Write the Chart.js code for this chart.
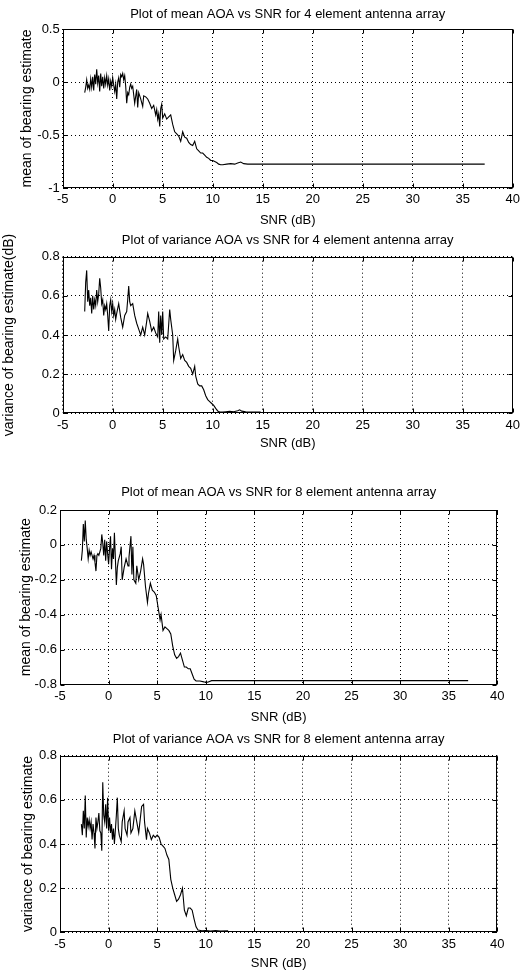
<!DOCTYPE html>
<html><head><meta charset="utf-8">
<script src="https://cdn.jsdelivr.net/npm/chart.js@4"></script>
<style>
html,body{margin:0;padding:0;background:#fff;width:526px;height:971px;overflow:hidden;position:relative}
canvas{position:absolute;left:0}
</style></head><body>
<canvas id="c1" width="526" height="230" style="top:0px"></canvas>
<canvas id="c2" width="526" height="222" style="top:230px"></canvas>
<canvas id="c3" width="526" height="255" style="top:470px"></canvas>
<canvas id="c4" width="526" height="246" style="top:725px"></canvas>
<script>
// ---------- data ----------
const xTicks = [-5, 0, 5, 10, 15, 20, 25, 30, 35, 40];
const xTickLabels = ['-5', '0', '5', '10', '15', '20', '25', '30', '35', '40'];

const yTicksMean4 = [-1, -0.5, 0, 0.5];
const yTickLabelsMean4 = ['-1', '-0.5', '0', '0.5'];
const yTicksVar = [0, 0.2, 0.4, 0.6, 0.8];
const yTickLabelsVar = ['0', '0.2', '0.4', '0.6', '0.8'];
const yTicksMean8 = [-0.8, -0.6, -0.4, -0.2, 0, 0.2];
const yTickLabelsMean8 = ['-0.8', '-0.6', '-0.4', '-0.2', '0', '0.2'];

const snrMean4 = [-2.8,-2.7,-2.6,-2.5,-2.4,-2.3,-2.2,-2.1,-2.0,-1.9,-1.8,-1.7,-1.6,-1.5,-1.4,-1.3,-1.2,-1.1,-1.0,-0.9,-0.8,-0.7,-0.6,-0.5,-0.4,-0.3,-0.2,-0.1,0.0,0.1,0.2,0.3,0.4,0.5,0.6,0.7,0.8,0.9,1.0,1.1,1.2,1.3,1.4,1.5,1.6,1.7,1.8,1.9,2.0,2.2,2.4,2.5,2.6,2.8,3.0,3.1,3.3,3.5,3.7,3.9,4.1,4.3,4.4,4.5,4.6,4.7,4.8,4.9,5.0,5.2,5.4,5.6,5.8,6.0,6.2,6.4,6.6,6.8,7.0,7.2,7.4,7.6,7.8,8.0,8.2,8.4,8.6,8.8,9.0,9.2,9.4,9.6,9.8,10.0,10.2,10.4,10.6,10.8,11.0,11.4,11.8,12.2,12.5,12.8,13.1,13.5,37.2];
const mean4 = [-0.10,-0.05,0.02,-0.06,-0.03,-0.07,0.03,-0.05,0.05,-0.08,0.07,-0.02,0.12,-0.01,0.06,-0.09,0.08,-0.04,0.05,-0.06,0.04,-0.02,0.06,-0.03,0.03,-0.08,0.01,-0.04,0.04,-0.03,-0.09,-0.02,-0.16,0.00,0.04,-0.05,0.07,0.05,0.08,0.02,0.06,-0.04,-0.20,-0.10,-0.12,-0.05,-0.02,-0.06,-0.04,-0.20,-0.07,-0.24,-0.10,-0.16,-0.23,-0.13,-0.14,-0.16,-0.20,-0.25,-0.22,-0.31,-0.26,-0.35,-0.30,-0.42,-0.25,-0.21,-0.34,-0.30,-0.35,-0.33,-0.31,-0.40,-0.47,-0.49,-0.51,-0.56,-0.47,-0.52,-0.53,-0.57,-0.59,-0.60,-0.56,-0.63,-0.65,-0.67,-0.67,-0.69,-0.71,-0.72,-0.74,-0.74,-0.75,-0.76,-0.775,-0.78,-0.78,-0.775,-0.77,-0.775,-0.765,-0.755,-0.77,-0.775,-0.775];

const snrVar4 = [-2.8,-2.7,-2.6,-2.5,-2.4,-2.3,-2.2,-2.1,-2.0,-1.9,-1.8,-1.7,-1.6,-1.5,-1.4,-1.3,-1.2,-1.1,-1.0,-0.9,-0.8,-0.7,-0.6,-0.5,-0.4,-0.3,-0.2,-0.1,0.0,0.1,0.2,0.3,0.4,0.6,0.8,1.0,1.2,1.4,1.5,1.6,1.7,1.8,2.0,2.2,2.4,2.6,2.8,3.0,3.2,3.4,3.5,3.7,3.9,4.1,4.3,4.5,4.6,4.7,4.8,4.9,5.0,5.1,5.3,5.5,5.7,5.8,6.0,6.1,6.3,6.5,6.6,6.8,7.0,7.2,7.4,7.6,7.8,8.0,8.2,8.3,8.5,8.7,8.9,9.1,9.3,9.5,9.7,9.9,10.1,10.3,10.5,10.7,11.0,11.3,11.7,12.1,12.5,12.7,12.9,13.3,13.8,14.3,14.8];
const var4 = [0.52,0.67,0.73,0.57,0.63,0.55,0.59,0.51,0.60,0.53,0.58,0.55,0.63,0.57,0.61,0.69,0.64,0.56,0.58,0.50,0.55,0.53,0.56,0.50,0.42,0.55,0.58,0.52,0.56,0.50,0.53,0.48,0.51,0.56,0.49,0.44,0.50,0.52,0.58,0.65,0.57,0.55,0.56,0.50,0.46,0.43,0.40,0.44,0.40,0.47,0.51,0.47,0.42,0.44,0.41,0.39,0.52,0.36,0.50,0.40,0.52,0.38,0.39,0.38,0.53,0.48,0.40,0.27,0.32,0.38,0.34,0.28,0.30,0.27,0.26,0.24,0.23,0.20,0.24,0.19,0.15,0.14,0.14,0.12,0.09,0.07,0.06,0.05,0.04,0.025,0.012,0.007,0.006,0.008,0.010,0.008,0.013,0.018,0.011,0.008,0.007,0.006,0.006];

const snrMean8 = [-2.8,-2.7,-2.6,-2.5,-2.4,-2.3,-2.2,-2.1,-2.0,-1.9,-1.8,-1.7,-1.6,-1.5,-1.4,-1.3,-1.2,-1.1,-1.0,-0.9,-0.8,-0.7,-0.6,-0.5,-0.4,-0.3,-0.2,-0.1,0.0,0.1,0.2,0.3,0.4,0.5,0.6,0.7,0.8,0.9,1.0,1.2,1.3,1.4,1.6,1.8,2.0,2.1,2.3,2.4,2.5,2.6,2.8,2.9,3.1,3.3,3.5,3.6,3.8,4.0,4.1,4.3,4.5,4.7,4.9,5.1,5.3,5.4,5.6,5.8,6.0,6.2,6.4,6.6,6.8,7.0,7.2,7.4,7.6,7.8,8.0,8.2,8.4,8.6,8.8,9.0,9.4,9.8,10.2,10.6,37.0];
const mean8 = [-0.09,-0.03,0.12,0.02,0.14,0.03,-0.02,-0.08,-0.03,-0.06,-0.04,-0.06,-0.08,-0.06,-0.10,-0.15,-0.06,-0.05,-0.06,-0.04,-0.02,0.06,0.01,-0.06,0.03,-0.09,0.02,-0.05,-0.11,-0.02,0.05,-0.14,-0.02,-0.08,0.07,-0.08,-0.23,-0.13,-0.09,-0.05,-0.01,-0.20,-0.13,-0.08,-0.12,-0.07,0.05,-0.17,-0.01,-0.20,-0.22,-0.12,-0.20,-0.15,-0.08,-0.11,-0.24,-0.33,-0.28,-0.22,-0.26,-0.27,-0.29,-0.36,-0.43,-0.40,-0.49,-0.47,-0.48,-0.49,-0.51,-0.58,-0.63,-0.65,-0.64,-0.62,-0.66,-0.70,-0.70,-0.71,-0.71,-0.74,-0.77,-0.78,-0.78,-0.785,-0.787,-0.778,-0.778];

const snrVar8 = [-2.8,-2.7,-2.6,-2.5,-2.4,-2.3,-2.2,-2.1,-2.0,-1.9,-1.8,-1.7,-1.6,-1.5,-1.4,-1.3,-1.2,-1.1,-1.0,-0.9,-0.8,-0.7,-0.6,-0.5,-0.4,-0.3,-0.2,-0.1,0.0,0.1,0.2,0.3,0.4,0.5,0.6,0.8,0.9,1.0,1.1,1.3,1.4,1.6,1.7,1.9,2.0,2.2,2.3,2.5,2.7,2.9,3.1,3.2,3.4,3.6,3.7,3.9,4.0,4.2,4.4,4.6,4.8,5.0,5.2,5.4,5.6,5.8,6.0,6.2,6.4,6.6,6.8,7.0,7.2,7.4,7.6,7.8,8.0,8.2,8.4,8.6,8.8,9.0,9.2,9.6,10.0,10.5,11.0,11.5,12.3];
const var8 = [0.49,0.44,0.55,0.47,0.62,0.43,0.52,0.48,0.51,0.47,0.50,0.42,0.49,0.45,0.38,0.52,0.47,0.50,0.54,0.46,0.45,0.37,0.68,0.53,0.50,0.58,0.47,0.61,0.46,0.52,0.45,0.49,0.42,0.47,0.40,0.53,0.61,0.47,0.44,0.41,0.50,0.55,0.47,0.44,0.50,0.52,0.45,0.47,0.55,0.50,0.45,0.49,0.57,0.58,0.50,0.42,0.47,0.45,0.42,0.44,0.43,0.44,0.43,0.40,0.39,0.38,0.35,0.33,0.24,0.20,0.17,0.14,0.15,0.17,0.20,0.10,0.075,0.11,0.11,0.10,0.06,0.025,0.01,0.007,0.008,0.006,0.008,0.006,0.007];

// ---------- layout (styling only) ----------
const FONT = '"Liberation Sans", Arial, Helvetica, sans-serif';

const boxPlugin = {
  id: 'matlabBox',
  afterDatasetsDraw(chart) {
    const {ctx, chartArea: a, scales: {x, y}} = chart;
    const L = Math.round(a.left) + 0.5, R = Math.round(a.right) - 0.5;
    const T = Math.round(a.top) + 0.5, B = Math.round(a.bottom) - 0.5;
    ctx.save();
    ctx.strokeStyle = '#000';
    ctx.lineWidth = 1;
    ctx.setLineDash([]);
    ctx.strokeRect(L, T, R - L, B - T);
    ctx.beginPath();
    x.ticks.forEach(t => {
      const p = Math.round(x.getPixelForValue(t.value)) + 0.5;
      ctx.moveTo(p, B); ctx.lineTo(p, B - 4);
      ctx.moveTo(p, T); ctx.lineTo(p, T + 4);
    });
    y.ticks.forEach(t => {
      const p = Math.round(y.getPixelForValue(t.value)) + 0.5;
      ctx.moveTo(L, p); ctx.lineTo(L + 4, p);
      ctx.moveTo(R, p); ctx.lineTo(R - 4, p);
    });
    ctx.stroke();
    ctx.restore();
  }
};

function makeChart(id, xs, ys, cfg) {
  const pts = xs.map((v, i) => ({x: v, y: ys[i]}));
  const gridOpts = {color: '#000', lineWidth: 1, drawTicks: false, borderDash: [1, 3]};
  const borderOpts = {display: false, dash: [1, 3]};
  return new Chart(document.getElementById(id), {
    type: 'line',
    data: {datasets: [{data: pts, borderColor: '#000', borderWidth: 1.1, pointRadius: 0, tension: 0, fill: false}]},
    options: {
      responsive: false, animation: false, events: [],
      layout: {padding: {left: 0, right: cfg.padR, top: 0, bottom: 0}},
      plugins: {
        legend: {display: false}, tooltip: {enabled: false},
        title: {display: true, text: cfg.title, fullSize: false, color: '#000',
          font: {family: FONT, size: 13, weight: 'normal', lineHeight: 1.2},
          padding: {top: cfg.tTop, bottom: cfg.tBot}}
      },
      scales: {
        x: {type: 'linear', min: xTicks[0], max: xTicks[xTicks.length - 1],
          afterBuildTicks: s => { s.ticks = xTicks.map(v => ({value: v})); },
          ticks: {color: '#000', font: {family: FONT, size: 13}, padding: 4, maxRotation: 0, autoSkip: false,
            callback: (v, i) => xTickLabels[i]},
          grid: gridOpts, border: borderOpts,
          title: {display: true, text: 'SNR (dB)', color: '#000', font: {family: FONT, size: 13, lineHeight: 1.2}, padding: {top: 0, bottom: cfg.xtB}},
          afterFit: s => { s.height = cfg.xH; }},
        y: {type: 'linear', min: cfg.yTicks[0], max: cfg.yTicks[cfg.yTicks.length - 1],
          afterBuildTicks: s => { s.ticks = cfg.yTicks.map(v => ({value: v})); },
          ticks: {color: '#000', font: {family: FONT, size: 13}, padding: 3, autoSkip: false,
            callback: (v, i) => cfg.yLabels[i]},
          grid: gridOpts, border: borderOpts,
          title: {display: true, text: cfg.ylabel, color: '#000', font: {family: FONT, size: 14, lineHeight: 1.2}, padding: {top: cfg.ytT, bottom: 0}},
          afterFit: s => { s.width = cfg.yW; }}
      }
    },
    plugins: [boxPlugin]
  });
}

makeChart('c1', snrMean4, mean4, {title: 'Plot of mean AOA vs SNR for 4 element antenna array',
  ylabel: 'mean of bearing estimate', yTicks: yTicksMean4, yLabels: yTickLabelsMean4,
  padR: 13.3, tTop: 6.2, tBot: 7.2, yW: 62.7, ytT: 18.6, xH: 42, xtB: 2.2});
makeChart('c2', snrVar4, var4, {title: 'Plot of variance AOA vs SNR for 4 element antenna array',
  ylabel: 'variance of bearing estimate(dB)', yTicks: yTicksVar, yLabels: yTickLabelsVar,
  padR: 13.3, tTop: 2.2, tBot: 8.9, yW: 62.7, ytT: 0.6, xH: 38.7, xtB: 1.2});
makeChart('c3', snrMean8, mean8, {title: 'Plot of mean AOA vs SNR for 8 element antenna array',
  ylabel: 'mean of bearing estimate', yTicks: yTicksMean8, yLabels: yTickLabelsMean8,
  padR: 28.7, tTop: 14.2, tBot: 10.2, yW: 60, ytT: 17.6, xH: 40.5, xtB: 0.2});
makeChart('c4', snrVar8, var8, {title: 'Plot of variance AOA vs SNR for 8 element antenna array',
  ylabel: 'variance of bearing estimate', yTicks: yTicksVar, yLabels: yTickLabelsVar,
  padR: 28.7, tTop: 6.2, tBot: 8.9, yW: 60, ytT: 19.6, xH: 38.7, xtB: 0.2});
</script>
</body></html>
